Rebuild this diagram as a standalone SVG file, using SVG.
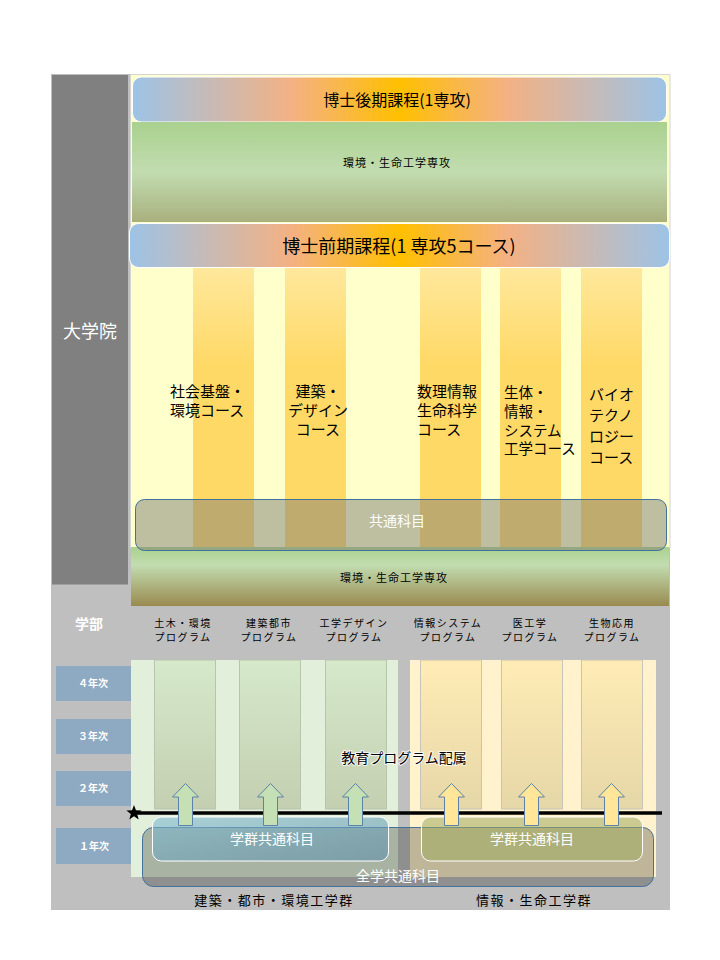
<svg xmlns="http://www.w3.org/2000/svg" width="720" height="960" viewBox="0 0 720 960">
<defs>
<linearGradient id="title" x1="0" y1="0" x2="1" y2="0">
<stop offset="0" stop-color="#9dc3e6"/><stop offset="0.3" stop-color="#f4b183"/><stop offset="0.5" stop-color="#ffc000"/><stop offset="0.7" stop-color="#f4b183"/><stop offset="1" stop-color="#9dc3e6"/>
</linearGradient>
<linearGradient id="greenTop" x1="0" y1="0" x2="0" y2="1">
<stop offset="0" stop-color="#a9d18e"/><stop offset="0.5" stop-color="#c2dcb0"/><stop offset="1" stop-color="#a9b07d"/>
</linearGradient>
<linearGradient id="greenBot" x1="0" y1="0" x2="0" y2="1">
<stop offset="0" stop-color="#a9d18e"/><stop offset="0.3" stop-color="#c2ddb0"/><stop offset="1" stop-color="#998a50"/>
</linearGradient>
<linearGradient id="stripe" x1="0" y1="0" x2="0" y2="1">
<stop offset="0" stop-color="#ffe89c"/><stop offset="0.35" stop-color="#ffd966"/><stop offset="1" stop-color="#ffd966"/>
</linearGradient>
<linearGradient id="gcol" x1="0" y1="0" x2="0" y2="1">
<stop offset="0" stop-color="#d6e9cb"/><stop offset="1" stop-color="#c3cfb0"/>
</linearGradient>
<linearGradient id="ycol" x1="0" y1="0" x2="0" y2="1">
<stop offset="0" stop-color="#ffecb5"/><stop offset="1" stop-color="#e6d7a8"/>
</linearGradient>
<linearGradient id="blueBox" x1="0" y1="0" x2="1" y2="1">
<stop offset="0" stop-color="#80bcd4"/><stop offset="1" stop-color="#5f8fa8"/>
</linearGradient>
</defs>
<style>
text{font-family:"Noto Sans CJK JP","Noto Sans",sans-serif;}
.c{text-anchor:middle;}
.w{fill:#ffffff;}
.k{fill:#000000;}
.title{stroke:#ffffff;stroke-width:1;fill:url(#title);}
.stripe{fill:url(#stripe);}
.year rect{fill:#8eaac2;}
.year text{fill:#ffffff;font-weight:bold;font-size:10px;text-anchor:middle;}
.prog text{font-size:10px;text-anchor:middle;letter-spacing:1.5px;}
.course text{font-size:15px;}
.gcol{fill:url(#gcol);stroke:#b8c4b0;stroke-width:1;}
.ycol{fill:url(#ycol);stroke:#c8c4b8;stroke-width:1;}
.arrowG{fill:#c5e0b4;stroke:#5b82a8;stroke-width:1;}
.arrowY{fill:#ffe699;stroke:#5b82a8;stroke-width:1;}
</style>

<!-- frame -->
<rect x="51" y="74" width="619" height="836" fill="#bfbfbf"/>
<g id="daigakuin">
<rect x="51.5" y="74.5" width="77" height="510.5" fill="#808080" stroke="#bfbfbf"/>
<text x="90" y="338" class="c w" font-size="18">大学院</text>
</g>
<rect x="130.5" y="74.5" width="539.5" height="473" fill="#ffffcc" stroke="#d4d4d4"/>

<!-- stripes -->
<g id="stripes">
<rect class="stripe" x="193" y="268" width="61" height="280"/>
<rect class="stripe" x="285" y="268" width="61" height="280"/>
<rect class="stripe" x="420" y="268" width="61" height="280"/>
<rect class="stripe" x="500" y="268" width="61" height="280"/>
<rect class="stripe" x="581" y="268" width="61" height="280"/>
</g>

<g id="doctor-later">
<rect class="title" x="132.5" y="77" width="534" height="45" rx="9"/>
<text x="397" y="106" class="c k" font-size="16">博士後期課程(1専攻)</text>
</g>
<g id="major-top">
<rect x="132" y="122" width="535" height="100" fill="url(#greenTop)"/>
<text x="397" y="167" class="c k" font-size="11" letter-spacing="1">環境・生命工学専攻</text>
</g>
<g id="doctor-former">
<rect class="title" x="129.5" y="223.5" width="540" height="44" rx="9"/>
<text x="399" y="253" class="c k" font-size="18">博士前期課程(1 専攻5コース)</text>
</g>

<g id="course1" class="course">
<text x="170" y="397" class="k">社会基盤・</text>
<text x="170" y="416" class="k">環境コース</text>
</g>
<g id="course2" class="course">
<text x="318" y="397" class="c k">建築・</text>
<text x="318" y="416" class="c k">デザイン</text>
<text x="318" y="435" class="c k">コース</text>
</g>
<g id="course3" class="course">
<text x="417" y="397" class="k">数理情報</text>
<text x="417" y="416" class="k">生命科学</text>
<text x="417" y="435" class="k">コース</text>
</g>
<g id="course4" class="course">
<text x="504" y="398" class="k" style="font-size:14.5px">生体・</text>
<text x="504" y="417" class="k" style="font-size:14.5px">情報・</text>
<text x="504" y="435.5" class="k" style="font-size:14.5px">システム</text>
<text x="504" y="454" class="k" style="font-size:14.5px">工学コース</text>
</g>
<g id="course5" class="course">
<text x="589" y="400" class="k">バイオ</text>
<text x="589" y="421" class="k">テクノ</text>
<text x="589" y="442" class="k">ロジー</text>
<text x="589" y="463" class="k">コース</text>
</g>

<g id="major-bottom">
<rect x="131" y="547" width="538" height="59" fill="url(#greenBot)"/>
<text x="394" y="582" class="c k" font-size="11" letter-spacing="1">環境・生命工学専攻</text>
</g>
<g id="common">
<rect x="135.5" y="499.5" width="531" height="51" rx="9" fill="#7d7d74" fill-opacity="0.5" stroke="#41719c"/>
<text x="397" y="526" class="c w" font-size="14">共通科目</text>
</g>

<!-- undergraduate -->
<g id="gakubu">
<text x="89" y="629" class="c w" font-size="14" font-weight="bold">学部</text>
</g>
<g id="programs" class="prog">
<g id="p1"><text x="183" y="627">土木・環境</text><text x="183" y="641">プログラム</text></g>
<g id="p2"><text x="269" y="627">建築都市</text><text x="269" y="641">プログラム</text></g>
<g id="p3"><text x="354" y="627">工学デザイン</text><text x="354" y="641">プログラム</text></g>
<g id="p4"><text x="448" y="627">情報システム</text><text x="448" y="641">プログラム</text></g>
<g id="p5"><text x="530" y="627">医工学</text><text x="530" y="641">プログラム</text></g>
<g id="p6"><text x="612" y="627">生物応用</text><text x="612" y="641">プログラム</text></g>
</g>

<g id="years" class="year">
<g id="y4"><rect x="56" y="666" width="76" height="35"/><text x="93" y="687">４年次</text></g>
<g id="y3"><rect x="56" y="719" width="76" height="35"/><text x="93" y="740">３年次</text></g>
<g id="y2"><rect x="56" y="771" width="76" height="35"/><text x="93" y="792">２年次</text></g>
<g id="y1"><rect x="56" y="828" width="77" height="36"/><text x="94" y="850">１年次</text></g>
</g>

<g id="green-group">
<rect x="131" y="660" width="267" height="217" fill="#e2efda"/>
<rect class="gcol" x="154.5" y="660" width="61" height="149"/>
<rect class="gcol" x="239.5" y="660" width="61" height="149"/>
<rect class="gcol" x="325.5" y="660" width="61" height="149"/>
</g>
<g id="yellow-group">
<rect x="410" y="660" width="246" height="217" fill="#fff2cc"/>
<rect class="ycol" x="420.5" y="660" width="61" height="149"/>
<rect class="ycol" x="501.5" y="660" width="61" height="149"/>
<rect class="ycol" x="581.5" y="660" width="61" height="149"/>
</g>
<g id="assign">
<text x="404" y="763" class="c k" font-size="14" stroke="#ffffff" stroke-width="2" paint-order="stroke" stroke-opacity="0.8">教育プログラム配属</text>
</g>

<g id="zengaku">
<rect x="142.5" y="827.5" width="511" height="59" rx="11" fill="#000000" fill-opacity="0.25" stroke="#41719c"/>
<text x="398" y="881" class="c w" font-size="14">全学共通科目</text>
</g>
<g id="gakugun-left">
<rect x="152.5" y="817" width="236" height="44" rx="9" fill="url(#blueBox)" fill-opacity="0.6" stroke="#ffffff"/>
<text x="272" y="844" class="c w" font-size="14">学群共通科目</text>
</g>
<g id="gakugun-right">
<rect x="421.5" y="817" width="221" height="44" rx="9" fill="#a0ac60" fill-opacity="0.55" stroke="#ffffff"/>
<text x="532" y="844" class="c w" font-size="14">学群共通科目</text>
</g>

<g id="connectors">
<line x1="134" y1="813" x2="662" y2="813" stroke="#000000" stroke-width="3.5"/>
<polygon points="134,805 135.94,810.33 141.61,810.53 137.14,814.02 138.7,819.47 134,816.3 129.3,819.47 130.86,814.02 126.39,810.53 132.06,810.33" fill="#000000"/>
<path class="arrowG" d="M178.5,825.5V797H172.5L185.5,783.5L198.5,797H192.5V825.5Z"/>
<path class="arrowG" d="M263.5,825.5V797H257.5L270.5,783.5L283.5,797H277.5V825.5Z"/>
<path class="arrowG" d="M348.5,825.5V797H342.5L355.5,783.5L368.5,797H362.5V825.5Z"/>
<path class="arrowY" d="M444.5,825.5V797H438.5L451.5,783.5L464.5,797H458.5V825.5Z"/>
<path class="arrowY" d="M524.5,825.5V797H518.5L531.5,783.5L544.5,797H538.5V825.5Z"/>
<path class="arrowY" d="M604.5,825.5V797H598.5L611.5,783.5L624.5,797H618.5V825.5Z"/>
</g>

<g id="cluster-labels">
<text x="274" y="905" class="c k" font-size="13" letter-spacing="1.5">建築・都市・環境工学群</text>
<text x="534" y="905" class="c k" font-size="13" letter-spacing="1.5">情報・生命工学群</text>
</g>
</svg>
